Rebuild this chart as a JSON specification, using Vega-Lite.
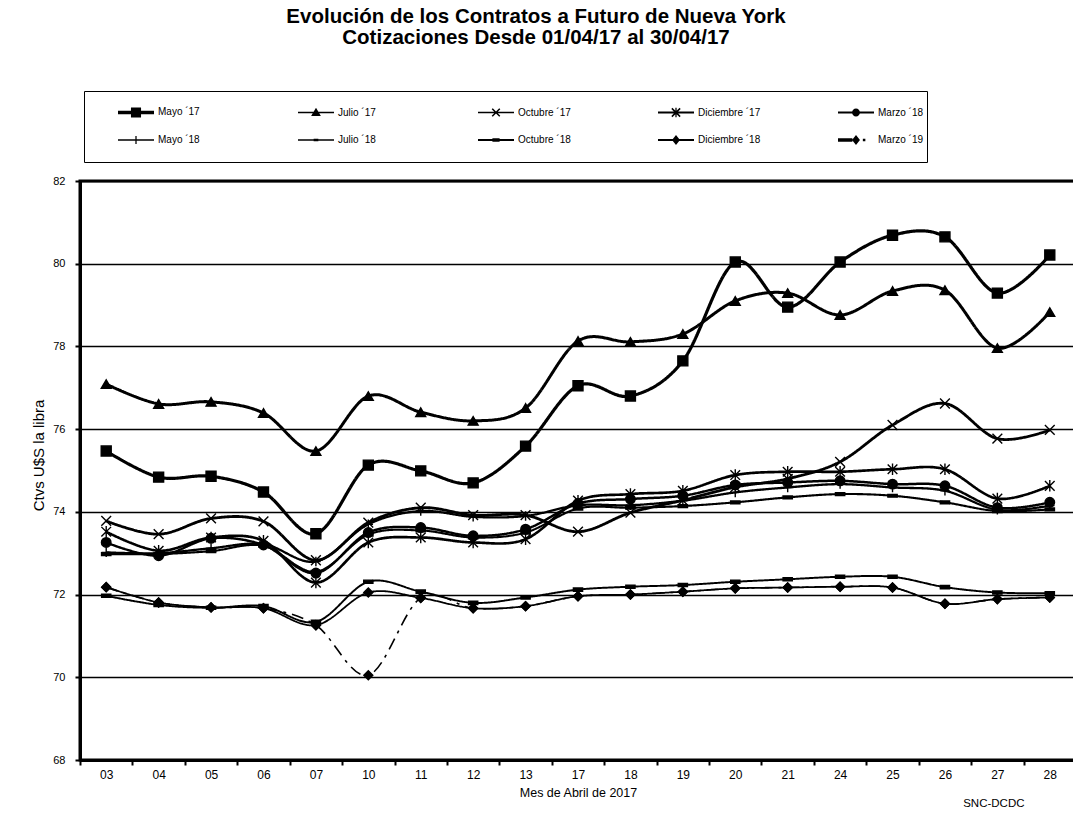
{
  "$schema": "https://vega.github.io/schema/vega-lite/v6.json",
  "width": 996,
  "height": 579,
  "autosize": {"type": "none"},
  "padding": {"left": 80, "top": 181, "right": 0, "bottom": 62},
  "background": "white",
  "title": {
    "text": ["Evolución de los Contratos a Futuro de Nueva York", "Cotizaciones Desde 01/04/17 al 30/04/17"],
    "font": "Liberation Sans",
    "fontSize": 20.5,
    "fontWeight": "bold",
    "color": "black",
    "anchor": "middle",
    "frame": "group",
    "dx": -42,
    "lineHeight": 21,
    "offset": 42
  },
  "config": {
    "view": {"stroke": "black", "strokeWidth": 3},
    "font": "Liberation Sans"
  },
  "data": {
    "values": [
      {"d":"03","Mayo ´17":75.47,"Julio ´17":77.09,"Octubre ´17":73.78,"Diciembre ´17":73.52,"Marzo ´18":73.26,"Mayo ´18":73.02,"Julio ´18":72.98,"Octubre ´18":71.97,"Diciembre ´18":72.18,"Marzo ´19":72.18},
      {"d":"04","Mayo ´17":74.84,"Julio ´17":76.61,"Octubre ´17":73.46,"Diciembre ´17":73.06,"Marzo ´18":72.94,"Mayo ´18":73.00,"Julio ´18":72.98,"Octubre ´18":71.75,"Diciembre ´18":71.81,"Marzo ´19":71.81},
      {"d":"05","Mayo ´17":74.86,"Julio ´17":76.66,"Octubre ´17":73.84,"Diciembre ´17":73.38,"Marzo ´18":73.36,"Mayo ´18":73.12,"Julio ´18":73.05,"Octubre ´18":71.68,"Diciembre ´18":71.69,"Marzo ´19":71.69},
      {"d":"06","Mayo ´17":74.48,"Julio ´17":76.39,"Octubre ´17":73.77,"Diciembre ´17":73.30,"Marzo ´18":73.20,"Mayo ´18":73.22,"Julio ´18":73.18,"Octubre ´18":71.72,"Diciembre ´18":71.67,"Marzo ´19":71.67},
      {"d":"07","Mayo ´17":73.47,"Julio ´17":75.47,"Octubre ´17":72.83,"Diciembre ´17":72.29,"Marzo ´18":72.52,"Mayo ´18":72.80,"Julio ´18":72.55,"Octubre ´18":71.34,"Diciembre ´18":71.26,"Marzo ´19":71.26},
      {"d":"10","Mayo ´17":75.13,"Julio ´17":76.80,"Octubre ´17":73.74,"Diciembre ´17":73.26,"Marzo ´18":73.50,"Mayo ´18":73.70,"Julio ´18":73.45,"Octubre ´18":72.31,"Diciembre ´18":72.05,"Marzo ´19":70.05},
      {"d":"11","Mayo ´17":74.99,"Julio ´17":76.41,"Octubre ´17":74.10,"Diciembre ´17":73.38,"Marzo ´18":73.62,"Mayo ´18":74.02,"Julio ´18":73.55,"Octubre ´18":72.07,"Diciembre ´18":71.92,"Marzo ´19":71.92},
      {"d":"12","Mayo ´17":74.70,"Julio ´17":76.20,"Octubre ´17":73.92,"Diciembre ´17":73.26,"Marzo ´18":73.42,"Mayo ´18":73.88,"Julio ´18":73.38,"Octubre ´18":71.80,"Diciembre ´18":71.67,"Marzo ´19":71.67},
      {"d":"13","Mayo ´17":75.59,"Julio ´17":76.51,"Octubre ´17":73.92,"Diciembre ´17":73.34,"Marzo ´18":73.58,"Mayo ´18":73.90,"Julio ´18":73.50,"Octubre ´18":71.93,"Diciembre ´18":71.72,"Marzo ´19":71.72},
      {"d":"17","Mayo ´17":77.05,"Julio ´17":78.13,"Octubre ´17":73.52,"Diciembre ´17":74.27,"Marzo ´18":74.20,"Mayo ´18":74.16,"Julio ´18":74.08,"Octubre ´18":72.12,"Diciembre ´18":71.96,"Marzo ´19":71.96},
      {"d":"18","Mayo ´17":76.80,"Julio ´17":78.11,"Octubre ´17":73.98,"Diciembre ´17":74.43,"Marzo ´18":74.31,"Mayo ´18":74.16,"Julio ´18":74.10,"Octubre ´18":72.19,"Diciembre ´18":72.00,"Marzo ´19":72.00},
      {"d":"19","Mayo ´17":77.65,"Julio ´17":78.30,"Octubre ´17":74.28,"Diciembre ´17":74.51,"Marzo ´18":74.39,"Mayo ´18":74.27,"Julio ´18":74.14,"Octubre ´18":72.23,"Diciembre ´18":72.07,"Marzo ´19":72.07},
      {"d":"20","Mayo ´17":80.04,"Julio ´17":79.10,"Octubre ´17":74.60,"Diciembre ´17":74.89,"Marzo ´18":74.65,"Mayo ´18":74.47,"Julio ´18":74.23,"Octubre ´18":72.31,"Diciembre ´18":72.15,"Marzo ´19":72.15},
      {"d":"21","Mayo ´17":78.95,"Julio ´17":79.29,"Octubre ´17":74.80,"Diciembre ´17":74.97,"Marzo ´18":74.71,"Mayo ´18":74.59,"Julio ´18":74.35,"Octubre ´18":72.37,"Diciembre ´18":72.17,"Marzo ´19":72.17},
      {"d":"24","Mayo ´17":80.04,"Julio ´17":78.76,"Octubre ´17":75.21,"Diciembre ´17":74.97,"Marzo ´18":74.75,"Mayo ´18":74.67,"Julio ´18":74.43,"Octubre ´18":72.43,"Diciembre ´18":72.19,"Marzo ´19":72.19},
      {"d":"25","Mayo ´17":80.69,"Julio ´17":79.34,"Octubre ´17":76.10,"Diciembre ´17":75.03,"Marzo ´18":74.67,"Mayo ´18":74.59,"Julio ´18":74.39,"Octubre ´18":72.43,"Diciembre ´18":72.17,"Marzo ´19":72.17},
      {"d":"26","Mayo ´17":80.65,"Julio ´17":79.36,"Octubre ´17":76.62,"Diciembre ´17":75.03,"Marzo ´18":74.63,"Mayo ´18":74.51,"Julio ´18":74.23,"Octubre ´18":72.18,"Diciembre ´18":71.78,"Marzo ´19":71.78},
      {"d":"27","Mayo ´17":79.29,"Julio ´17":77.96,"Octubre ´17":75.77,"Diciembre ´17":74.32,"Marzo ´18":74.10,"Mayo ´18":74.05,"Julio ´18":74.02,"Octubre ´18":72.05,"Diciembre ´18":71.89,"Marzo ´19":71.89},
      {"d":"28","Mayo ´17":80.21,"Julio ´17":78.83,"Octubre ´17":75.98,"Diciembre ´17":74.63,"Marzo ´18":74.23,"Mayo ´18":74.15,"Julio ´18":74.06,"Octubre ´18":72.03,"Diciembre ´18":71.93,"Marzo ´19":71.93}
    ]
  },
  "transform": [
    {"fold": ["Mayo ´17","Julio ´17","Octubre ´17","Diciembre ´17","Marzo ´18","Mayo ´18","Julio ´18","Octubre ´18","Diciembre ´18","Marzo ´19"], "as": ["s", "v"]}
  ],
  "layer": [
    {
      "mark": {"type": "line", "interpolate": "cardinal", "color": "black", "clip": true},
      "encoding": {
        "x": {
          "field": "d", "type": "ordinal", "bandPosition": 0.5,
          "scale": {"type": "band", "paddingInner": 0, "paddingOuter": 0, "domain": ["03","04","05","06","07","10","11","12","13","17","18","19","20","21","24","25","26","27","28"]},
          "axis": {
            "orient": "bottom",
            "title": "Mes de Abril de 2017", "titleFont": "Liberation Sans", "titleFontSize": 12.5, "titleFontWeight": "normal", "titleColor": "black", "titlePadding": 6,
            "labelAngle": 0, "labelFont": "Liberation Sans", "labelFontSize": 12, "labelColor": "black", "labelPadding": 4,
            "tickBand": "extent", "ticks": true, "tickColor": "black", "tickWidth": 2, "tickSize": 5,
            "domain": true, "domainColor": "black", "domainWidth": 3, "grid": false
          }
        },
        "y": {
          "field": "v", "type": "quantitative",
          "scale": {"domain": [68, 82], "zero": false, "nice": false},
          "axis": {
            "title": "Ctvs U$S la libra", "titleFont": "Liberation Sans", "titleFontSize": 15, "titleFontWeight": "normal", "titleColor": "black", "titlePadding": 6, "titleY": 274,
            "values": [68,70,72,74,76,78,80,82],
            "labelFont": "Liberation Sans", "labelFontSize": 11, "labelColor": "black", "labelPadding": 10,
            "ticks": true, "tickColor": "black", "tickWidth": 2, "tickSize": 5,
            "domain": true, "domainColor": "black", "domainWidth": 3,
            "grid": true, "gridColor": "black", "gridWidth": 1.6, "gridOpacity": 1
          }
        },
        "detail": {"field": "s"},
        "strokeWidth": {
          "field": "s", "legend": null,
          "scale": {
            "domain": ["Mayo ´17","Julio ´17","Octubre ´17","Diciembre ´17","Marzo ´18","Mayo ´18","Julio ´18","Octubre ´18","Diciembre ´18","Marzo ´19"],
            "range": [3.2, 1.6, 1.4, 2.4, 2.0, 1.3, 1.3, 1.8, 2.2, 2.6]
          }
        },
        "strokeDash": {
          "field": "s", "legend": null,
          "scale": {
            "domain": ["Mayo ´17","Julio ´17","Octubre ´17","Diciembre ´17","Marzo ´18","Mayo ´18","Julio ´18","Octubre ´18","Diciembre ´18","Marzo ´19"],
            "range": [[1,0],[1,0],[1,0],[1,0],[1,0],[1,0],[1,0],[1,0],[1,0],[12,6,3,6]]
          }
        }
      }
    },
    {
      "mark": {"type": "point", "filled": true, "fill": "black", "stroke": "black", "strokeWidth": 1.4, "opacity": 1},
      "encoding": {
        "x": {"field": "d", "type": "ordinal", "bandPosition": 0.5, "axis": null},
        "y": {"field": "v", "type": "quantitative"},
        "shape": {
          "field": "s", "legend": null,
          "scale": {
            "domain": ["Mayo ´17","Julio ´17","Octubre ´17","Diciembre ´17","Marzo ´18","Mayo ´18","Julio ´18","Octubre ´18","Diciembre ´18","Marzo ´19"],
            "range": ["square","triangle-up","M-1,-1L1,1M1,-1L-1,1","M-1,-1L1,1M1,-1L-1,1M0,-1.2L0,1.2","circle","M-1,0L1,0M0,-1L0,1","M-1,-0.3H1V0.3H-1Z","M-1,-0.35H1V0.35H-1Z","diamond","diamond"]
          }
        },
        "size": {
          "field": "s", "legend": null,
          "scale": {
            "domain": ["Mayo ´17","Julio ´17","Octubre ´17","Diciembre ´17","Marzo ´18","Mayo ´18","Julio ´18","Octubre ´18","Diciembre ´18","Marzo ´19"],
            "range": [100, 80, 49, 64, 64, 49, 25, 49, 90, 90]
          }
        }
      }
    },
    {
      "transform": [{"filter": "false"}],
      "mark": {"type": "point", "filled": true, "fill": "black", "stroke": "black", "opacity": 1},
      "encoding": {
        "x": {
          "field": "d", "type": "ordinal", "bandPosition": 0.5,
          "axis": {"orient": "bottom", "title": "SNC-DCDC", "labels": false, "ticks": false, "domain": false, "grid": false, "titleFont": "Liberation Sans", "titleFontSize": 11.5, "titleFontWeight": "normal", "titleColor": "black", "titleAlign": "right", "titleX": 944, "titleY": 37}
        },
        "shape": {
          "field": "s",
          "scale": {
            "domain": ["Mayo ´17","Julio ´17","Octubre ´17","Diciembre ´17","Marzo ´18","Mayo ´18","Julio ´18","Octubre ´18","Diciembre ´18","Marzo ´19"],
            "range": [
              "M-1,-0.1H1V0.1H-1ZM-0.28,-0.28H0.28V0.28H-0.28Z",
              "M-1,-0.04H1V0.04H-1ZM0,-0.27L0.27,0.2L-0.27,0.2Z",
              "M-1,-0.035H1V0.035H-1ZM-0.24,-0.18L-0.18,-0.24L0.24,0.18L0.18,0.24ZM0.18,-0.24L0.24,-0.18L-0.18,0.24L-0.24,0.18Z",
              "M-1,-0.06H1V0.06H-1ZM-0.26,-0.2L-0.2,-0.26L0.26,0.2L0.2,0.26ZM0.2,-0.26L0.26,-0.2L-0.2,0.26L-0.26,0.2ZM-0.035,-0.27H0.035V0.27H-0.035Z",
              "M-1,-0.05H1V0.05H-1ZM-0.22,0A0.22,0.22,0,1,1,0.22,0A0.22,0.22,0,1,1,-0.22,0Z",
              "M-1,-0.035H1V0.035H-1ZM-0.035,-0.22H0.035V0.22H-0.035Z",
              "M-1,-0.035H1V0.035H-1ZM-0.13,-0.07H0.13V0.07H-0.13Z",
              "M-1,-0.05H1V0.05H-1ZM-0.2,-0.1H0.2V0.1H-0.2Z",
              "M-1,-0.06H1V0.06H-1ZM0,-0.28L0.22,0L0,0.28L-0.22,0Z",
              "M-1,-0.1H-0.2V0.1H-1ZM0,-0.28L0.22,0L0,0.28L-0.22,0ZM0.38,-0.07H0.52V0.07H0.38Z"
            ]
          },
          "legend": {
            "orient": "none", "legendX": 4, "legendY": -90,
            "title": " ", "titleOrient": "bottom", "titleFontSize": 8, "titlePadding": 6,
            "columns": 5, "direction": "horizontal", "gridAlign": "all",
            "symbolSize": 1296, "symbolFillColor": "black", "symbolStrokeColor": "black", "symbolStrokeWidth": 0, "symbolOpacity": 1,
            "symbolOffset": 31, "labelOffset": 4,
            "labelFont": "Liberation Sans", "labelFontSize": 10, "labelColor": "black", "labelLimit": 300,
            "padding": 3, "rowPadding": 4, "columnPadding": 46,
            "strokeColor": "black", "fillColor": "white",
            "encode": {"legend": {"update": {"strokeWidth": {"value": 3}}}}
          }
        }
      }
    }
  ],
  "resolve": {"scale": {"shape": "independent", "size": "independent"}, "axis": {"x": "independent"}}
}
